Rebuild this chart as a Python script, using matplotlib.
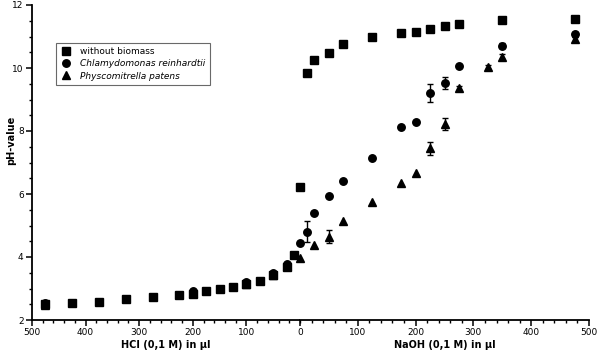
import matplotlib
matplotlib.use("Agg")
import matplotlib.pyplot as plt
import numpy as np
from matplotlib.ticker import MultipleLocator, FixedLocator

# Titration data, HCl (left half) and NaOH (right half), volumes in µl
ref_hcl = [475, 425, 375, 325, 275, 225, 200, 175, 150, 125, 100, 75, 50, 25, 11]
ref_hcl_ph = [2.50, 2.53, 2.58, 2.66, 2.72, 2.78, 2.83, 2.91, 2.97, 3.04, 3.14, 3.25, 3.43, 3.69, 4.05]
ref_naoh = [0, 12, 25, 50, 75, 125, 175, 200, 225, 250, 275, 350, 475]
ref_naoh_ph = [6.22, 9.83, 10.24, 10.48, 10.76, 10.97, 11.12, 11.15, 11.25, 11.33, 11.39, 11.51, 11.55]

chl_hcl = [475, 200, 100, 50, 25]
chl_hcl_ph = [2.53, 2.93, 3.22, 3.48, 3.78]
chl_naoh = [0, 12, 25, 50, 75, 125, 175, 200, 225, 250, 275, 350, 475]
chl_naoh_ph = [4.43, 4.80, 5.41, 5.93, 6.41, 7.15, 8.12, 8.29, 9.20, 9.51, 10.06, 10.70, 11.07]
chl_naoh_err = [0, 0.33, 0, 0, 0, 0, 0, 0, 0.28, 0.19, 0, 0.08, 0.08]

phy_hcl = [475, 200, 100, 50, 25]
phy_hcl_ph = [2.48, 2.85, 3.15, 3.42, 3.70]
phy_naoh = [0, 25, 50, 75, 125, 175, 200, 225, 250, 275, 325, 350, 475]
phy_naoh_ph = [3.97, 4.38, 4.64, 5.14, 5.76, 6.36, 6.68, 7.45, 8.22, 9.37, 10.03, 10.35, 10.91]
phy_naoh_err = [0, 0, 0.21, 0, 0, 0, 0, 0.21, 0.20, 0.06, 0.06, 0.08, 0.08]

plt.rcParams['font.family'] = ['DejaVu Sans']

fig = plt.figure(figsize=(6.0, 3.53), dpi=100)
W, H = 600, 353
x0, xm, x1 = 32, 300, 589
yb, yt = 320, 5
axL = fig.add_axes([x0 / W, 1 - yb / H, (xm - x0) / W, (yb - yt) / H])
axR = fig.add_axes([xm / W, 1 - yb / H, (x1 - xm) / W, (yb - yt) / H], sharey=axL)

styles = [("s", 5.6), ("o", 5.4), ("^", 5.4)]
names = ["without biomass", "Chlamydomonas reinhardtii", "Physcomitrella patens"]

left = [(ref_hcl, ref_hcl_ph), (chl_hcl, chl_hcl_ph), (phy_hcl, phy_hcl_ph)]
right = [(ref_naoh, ref_naoh_ph, None), (chl_naoh, chl_naoh_ph, chl_naoh_err),
         (phy_naoh, phy_naoh_ph, phy_naoh_err)]

handles = []
for (m, ms), (x, y) in zip(styles, left):
    h, = axL.plot(x, y, m, ms=ms, color="black", ls="none", clip_on=False)
    handles.append(h)

for (m, ms), (x, y, e) in zip(styles, right):
    axR.plot(x, y, m, ms=ms, color="black", ls="none", clip_on=False, zorder=3)
    if e is not None:
        x = np.array(x); y = np.array(y); e = np.array(e)
        k = e > 0
        axR.errorbar(x[k], y[k], yerr=e[k], fmt="none", ecolor="black",
                     elinewidth=1.0, capsize=2.5, capthick=1.0, clip_on=False, zorder=2)

axL.set_xlim(500, 0)
axR.set_xlim(0, 500)
axL.set_ylim(2, 12)

for ax in (axL, axR):
    ax.spines['top'].set_visible(False)
    ax.spines['right'].set_visible(False)
    ax.spines['bottom'].set_linewidth(1.3)
    ax.xaxis.set_minor_locator(MultipleLocator(20))
    ax.tick_params(axis='both', which='major', direction='out', length=4, width=1.1,
                   labelsize=6.5, pad=2)
    ax.tick_params(axis='both', which='minor', direction='out', length=2.2, width=1.0)

axL.xaxis.set_major_locator(FixedLocator([500, 400, 300, 200, 100]))
axR.xaxis.set_major_locator(FixedLocator([0, 100, 200, 300, 400, 500]))
axL.spines['left'].set_linewidth(1.3)
axL.yaxis.set_major_locator(MultipleLocator(2))
axL.yaxis.set_minor_locator(MultipleLocator(0.5))
axR.spines['left'].set_visible(False)
axR.tick_params(axis='y', which='both', left=False, labelleft=False)

axL.set_xlabel("HCl (0,1 M) in µl", fontsize=7, fontweight='bold', labelpad=2)
axR.set_xlabel("NaOH (0,1 M) in µl", fontsize=7, fontweight='bold', labelpad=2)
axL.set_ylabel("pH-value", fontsize=7, fontweight='bold')
axL.yaxis.set_label_coords(-0.058, 0.57)

leg = axL.legend(handles, names, loc="upper left", bbox_to_anchor=(0.09, 0.88),
                 fontsize=6.5, frameon=True, fancybox=False, handlelength=1.2,
                 handletextpad=1.0, borderpad=0.5, labelspacing=0.35,
                 borderaxespad=0)
leg.get_frame().set_edgecolor("#444444")
leg.get_frame().set_linewidth(0.8)
for t in leg.get_texts()[1:]:
    t.set_fontstyle('italic')

fig.savefig("out.png", dpi=100)
